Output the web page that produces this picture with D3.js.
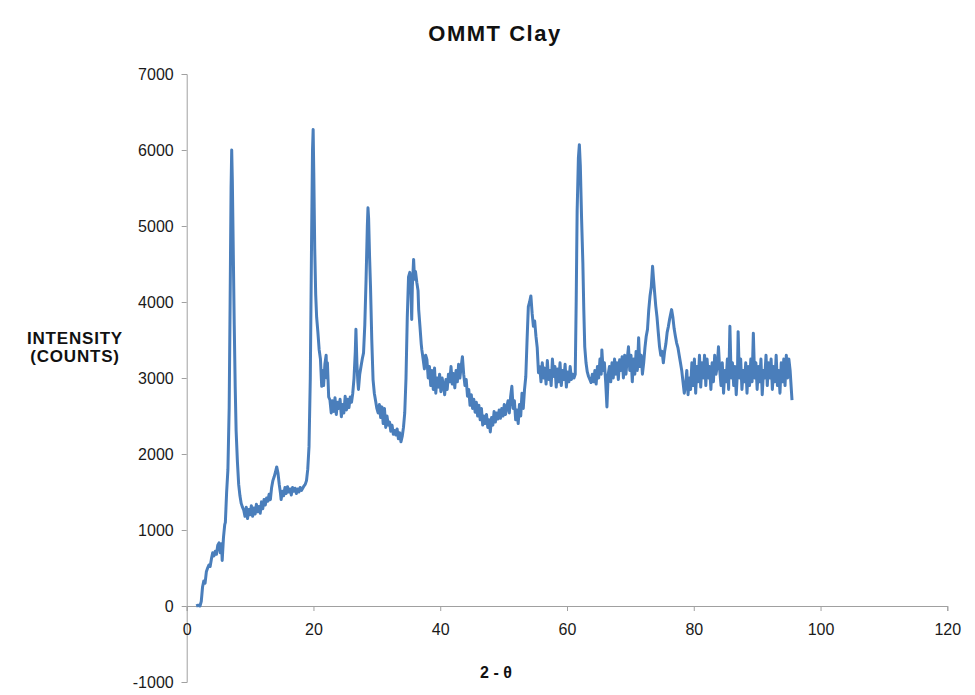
<!DOCTYPE html>
<html>
<head>
<meta charset="utf-8">
<script src="https://cdn.jsdelivr.net/npm/d3@7"></script>
<style>
  html, body { margin: 0; padding: 0; background: #fff; }
  svg { display: block; }
</style>
</head>
<body>
<svg id="chart" width="975" height="695"></svg>
<script>
const chartTitle = "OMMT Clay";
const yTitleLines = ["INTENSITY", "(COUNTS)"];
const xTitle = "2 - θ";
const xTicks = [0, 20, 40, 60, 80, 100, 120];
const yTicks = [-1000, 0, 1000, 2000, 3000, 4000, 5000, 6000, 7000];

// [2-theta, counts]
const scan = [
  [1.5,0],[1.8,10],[2.1,0],[2.3,60],[2.5,250],[2.7,330],[2.9,300],[3.1,450],[3.3,500],[3.5,540],
  [3.7,520],[3.9,620],[4.1,700],[4.3,660],[4.5,720],[4.7,680],[4.9,800],[5.1,830],[5.3,700],[5.5,820],
  [5.6,600],[5.8,900],[6.0,1070],[6.1,1100],[6.3,1500],[6.5,1790],
  [6.7,2600],[6.85,4000],[7.0,5500],[7.1,6000],[7.2,5600],[7.35,4650],[7.5,3700],[7.65,2890],[7.8,2300],
  [8.0,1900],[8.2,1600],[8.4,1450],[8.6,1350],[8.8,1300],
  [9.0,1260],[9.2,1180],[9.4,1300],[9.6,1150],[9.8,1270],[10.0,1200],[10.2,1320],[10.4,1180],[10.6,1290],
  [10.8,1210],[11.0,1340],[11.2,1240],[11.4,1310],[11.6,1220],[11.8,1370],[12.0,1280],[12.2,1400],[12.4,1330],
  [12.6,1420],[12.8,1380],[13.0,1470],[13.2,1400],[13.4,1560],[13.6,1650],[13.8,1700],[14.0,1760],[14.2,1830],
  [14.4,1750],[14.6,1600],[14.8,1480],[14.9,1400],[15.1,1510],[15.3,1450],[15.5,1560],[15.7,1480],[15.9,1570],
  [16.1,1500],[16.3,1540],[16.5,1460],[16.7,1560],[16.9,1510],[17.1,1550],[17.3,1480],[17.5,1540],[17.7,1500],
  [17.9,1560],[18.1,1520],[18.3,1550],[18.5,1580],[18.7,1600],[18.9,1650],[19.1,1800],[19.3,2100],[19.5,3000],
  [19.7,4800],[19.85,6000],[19.95,6270],[20.05,5700],[20.2,4700],[20.35,4100],[20.5,3800],[20.7,3600],[20.9,3370],
  [21.1,3250],[21.3,2890],[21.4,3100],[21.6,2900],[21.8,3180],[22.0,3300],[22.1,3000],[22.2,3200],[22.4,2750],
  [22.6,2710],[22.8,2540],
  [23.0,2700],[23.2,2560],[23.4,2740],[23.6,2520],[23.8,2680],[24.0,2600],[24.2,2720],[24.4,2490],[24.6,2650],
  [24.8,2540],[25.0,2760],[25.2,2580],[25.4,2720],[25.6,2610],[25.8,2750],[26.0,2680],[26.2,2800],[26.4,3000],
  [26.6,3350],[26.7,3640],[26.85,3200],[27.0,2950],[27.1,2850],[27.3,3050],[27.5,3150],[27.7,3250],[27.9,3330],
  [28.1,3700],[28.3,4300],[28.5,5000],[28.6,5240],[28.7,5100],[28.85,4600],[29.0,4200],[29.2,3500],[29.4,2980],
  [29.6,2800],[29.8,2700],[30.0,2600],[30.2,2540],[30.4,2650],[30.6,2480],[30.8,2620],[31.0,2400],[31.2,2600],
  [31.4,2350],[31.6,2500],[31.8,2380],[32.0,2420],[32.2,2300],[32.4,2380],[32.6,2260],[32.8,2310],[33.0,2250],
  [33.2,2330],[33.4,2200],[33.6,2280],[33.8,2160],[34.0,2230],[34.2,2350],[34.4,2540],[34.6,3000],[34.8,3800],
  [35.0,4330],[35.2,4390],[35.35,4250],[35.5,3770],[35.6,4200],[35.8,4560],[35.95,4300],[36.1,4400],[36.3,4260],
  [36.5,4150],[36.6,3900],[36.8,3680],[37.0,3450],[37.1,3370],[37.3,3250],[37.5,3120],[37.7,3300],[37.9,3240],
  [38.1,3000],[38.3,3150],[38.5,2900],[38.7,3100],[38.9,2850],[39.1,3130],[39.3,2800],[39.5,3000],[39.7,2880],
  [39.9,3050],[40.1,2820],[40.3,3000],[40.5,2900],[40.7,2780],[40.9,2980],[41.1,2850],[41.3,3050],[41.5,2950],
  [41.7,3150],[41.9,2920],[42.1,3060],[42.3,2870],[42.5,3100],[42.7,2950],[42.9,3180],[43.1,3000],[43.3,3150],
  [43.5,3280],[43.7,3050],[43.9,2900],[44.1,2980],[44.3,2760],[44.5,2850],[44.7,2640],[44.9,2780],[45.1,2600],
  [45.3,2720],[45.5,2550],[45.7,2680],[45.9,2500],[46.1,2640],[46.3,2450],[46.5,2600],[46.7,2380],[46.9,2500],
  [47.1,2400],[47.3,2520],[47.5,2350],[47.7,2450],[47.9,2290],[48.1,2480],[48.3,2380],[48.5,2560],[48.7,2420],
  [48.9,2540],[49.1,2460],[49.3,2580],[49.5,2470],[49.7,2600],[49.9,2500],[50.1,2650],[50.3,2520],[50.5,2620],
  [50.7,2700],[50.9,2540],[51.1,2750],[51.3,2890],[51.5,2600],[51.7,2700],[51.9,2450],[52.1,2580],[52.3,2400],
  [52.5,2650],[52.7,2500],[52.9,2800],[53.1,2600],[53.3,2850],[53.5,3020],[53.7,3500],[53.9,3940],[54.1,4000],
  [54.3,4080],[54.5,3850],[54.7,3680],[54.9,3750],[55.1,3550],[55.3,3400],[55.5,3070],
  [55.7,3150],[55.9,2950],[56.1,3200],[56.3,3000],[56.5,3130],[56.7,2920],[56.9,3230],[57.1,2980],[57.3,3100],
  [57.5,2900],[57.7,3250],[57.9,3020],[58.1,3150],[58.3,2880],[58.5,3120],[58.7,2950],[58.9,3200],[59.1,2900],
  [59.3,3100],[59.5,2980],[59.7,3180],[59.9,2880],[60.1,3080],[60.3,2950],[60.5,3150],[60.7,2980],[60.9,3050],
  [61.1,3000],[61.3,3050],[61.45,4000],[61.6,5200],[61.8,5900],[61.95,6070],[62.1,5800],[62.3,5100],[62.5,4520],
  [62.65,3900],[62.8,3410],[63.0,3200],[63.2,3080],[63.4,3020],[63.6,2980],[63.8,2940],[64.0,3050],[64.2,2950],
  [64.4,3100],[64.6,2920],[64.8,3150],[65.0,3000],[65.2,3250],[65.4,3050],[65.5,3370],[65.7,3100],[65.9,3200],
  [66.1,2950],[66.3,2620],[66.5,3050],[66.7,3150],[66.9,2950],[67.1,3200],[67.3,3000],[67.5,3250],[67.7,3050],
  [67.9,3200],[68.1,2980],[68.3,3240],[68.5,3100],[68.7,3280],[68.9,3000],[69.1,3300],[69.3,3050],[69.5,3250],
  [69.7,3410],[69.9,3100],[70.1,3300],[70.3,2950],[70.5,3250],[70.7,3050],[70.9,3350],[71.1,3100],[71.3,3530],
  [71.5,3150],[71.7,3300],[71.9,3050],[72.1,3200],[72.3,3400],[72.5,3550],[72.7,3640],[72.9,3900],[73.1,4080],
  [73.3,4200],[73.5,4470],[73.65,4300],[73.8,4150],[74.0,3950],[74.2,3800],[74.4,3600],[74.6,3410],[74.8,3300],
  [75.0,3350],[75.2,3200],[75.4,3350],[75.6,3450],[75.8,3600],[76.0,3680],[76.2,3780],[76.5,3900],[76.7,3800],
  [76.9,3650],[77.1,3550],[77.3,3460],[77.5,3400],[77.7,3300],[77.9,3200],[78.1,3100],[78.3,2950],[78.5,2800],
  [78.7,2900],
  [78.9,3100],[79.1,2780],[79.3,3000],[79.5,2850],[79.7,3200],[79.9,2900],[80.1,3250],[80.3,2800],[80.5,3150],
  [80.7,2950],[80.9,3300],[81.1,2880],[81.3,3200],[81.5,3000],[81.7,3300],[81.9,2900],[82.1,3250],[82.3,3000],
  [82.5,3150],[82.7,2850],[82.9,3200],[83.1,2950],[83.3,3300],[83.5,3050],[83.7,3150],[83.9,3410],[84.1,3100],
  [84.3,2900],[84.5,3200],[84.7,2800],[84.9,3100],[85.1,2950],[85.3,3250],[85.5,2850],[85.7,3680],[85.9,3000],
  [86.1,3200],[86.3,2900],[86.5,3150],[86.7,2780],[86.9,3100],[87.0,3610],[87.2,3000],[87.4,3250],[87.6,2850],
  [87.8,3100],[88.0,2950],[88.2,3200],[88.4,2800],[88.6,3150],[88.8,2900],[89.0,3250],[89.2,2950],[89.4,3590],
  [89.6,3000],[89.8,3200],[90.0,2850],[90.2,3150],[90.4,2950],[90.6,3250],[90.8,2780],[91.0,3100],[91.2,3000],
  [91.4,3300],[91.6,2900],[91.8,3200],[92.0,3000],[92.2,3250],[92.4,2850],[92.6,3150],[92.8,2950],[93.0,3300],
  [93.2,2900],[93.4,3100],[93.6,2800],[93.8,3200],[94.0,2950],[94.2,3250],[94.4,2900],[94.6,3300],[94.8,3000],
  [95.0,3250],[95.2,3100],[95.5,2710]
];

const svg = d3.select("#chart");
const font = "'Liberation Sans', Arial, sans-serif";

const x = d3.scaleLinear().domain([0, 120]).range([186.7, 947.3]);
const y = d3.scaleLinear().domain([-1000, 7000]).range([682, 74]);

const axisColor = "#a0a0a0";
const fmt = d => String(d);

// Y axis
const yAxis = svg.append("g")
  .attr("transform", `translate(${x(0)},0)`)
  .call(d3.axisLeft(y).tickValues(yTicks).tickSize(5).tickPadding(8).tickFormat(fmt));
yAxis.select(".domain").attr("stroke", axisColor).attr("stroke-width", 1);
yAxis.selectAll(".tick line").attr("stroke", axisColor);
yAxis.selectAll(".tick text")
  .attr("font-family", font).attr("font-size", 16).attr("fill", "#1a1a1a");

// X axis at y = 0
const xAxis = svg.append("g")
  .attr("transform", `translate(0,${y(0)})`)
  .call(d3.axisBottom(x).tickValues(xTicks).tickSize(5).tickPadding(13).tickFormat(fmt));
xAxis.select(".domain").attr("stroke", axisColor).attr("stroke-width", 1);
xAxis.selectAll(".tick line").attr("stroke", axisColor);
xAxis.selectAll(".tick text")
  .attr("font-family", font).attr("font-size", 16).attr("fill", "#1a1a1a");

// Line
const line = d3.line().x(d => x(d[0])).y(d => y(d[1]));
svg.append("path")
  .datum(scan)
  .attr("fill", "none")
  .attr("stroke", "#4a7ebb")
  .attr("stroke-width", 3)
  .attr("stroke-linejoin", "round")
  .attr("d", line);

// Title
svg.append("text")
  .attr("x", 495).attr("y", 41)
  .attr("text-anchor", "middle")
  .attr("font-family", font).attr("font-weight", "bold").attr("font-size", 22)
  .attr("letter-spacing", 1.5)
  .attr("fill", "#111")
  .text(chartTitle);

// Y title
svg.append("text")
  .attr("text-anchor", "middle")
  .attr("font-family", font).attr("font-weight", "bold").attr("font-size", 17)
  .attr("letter-spacing", 0.8)
  .attr("fill", "#111")
  .selectAll("tspan")
  .data(yTitleLines)
  .join("tspan")
  .attr("x", 75)
  .attr("y", (d, i) => 343.5 + i * 18.5)
  .text(d => d);

// X title
svg.append("text")
  .attr("x", 496).attr("y", 678)
  .attr("text-anchor", "middle")
  .attr("font-family", font).attr("font-weight", "bold").attr("font-size", 16)
  .attr("fill", "#111")
  .text(xTitle);
</script>
</body>
</html>
